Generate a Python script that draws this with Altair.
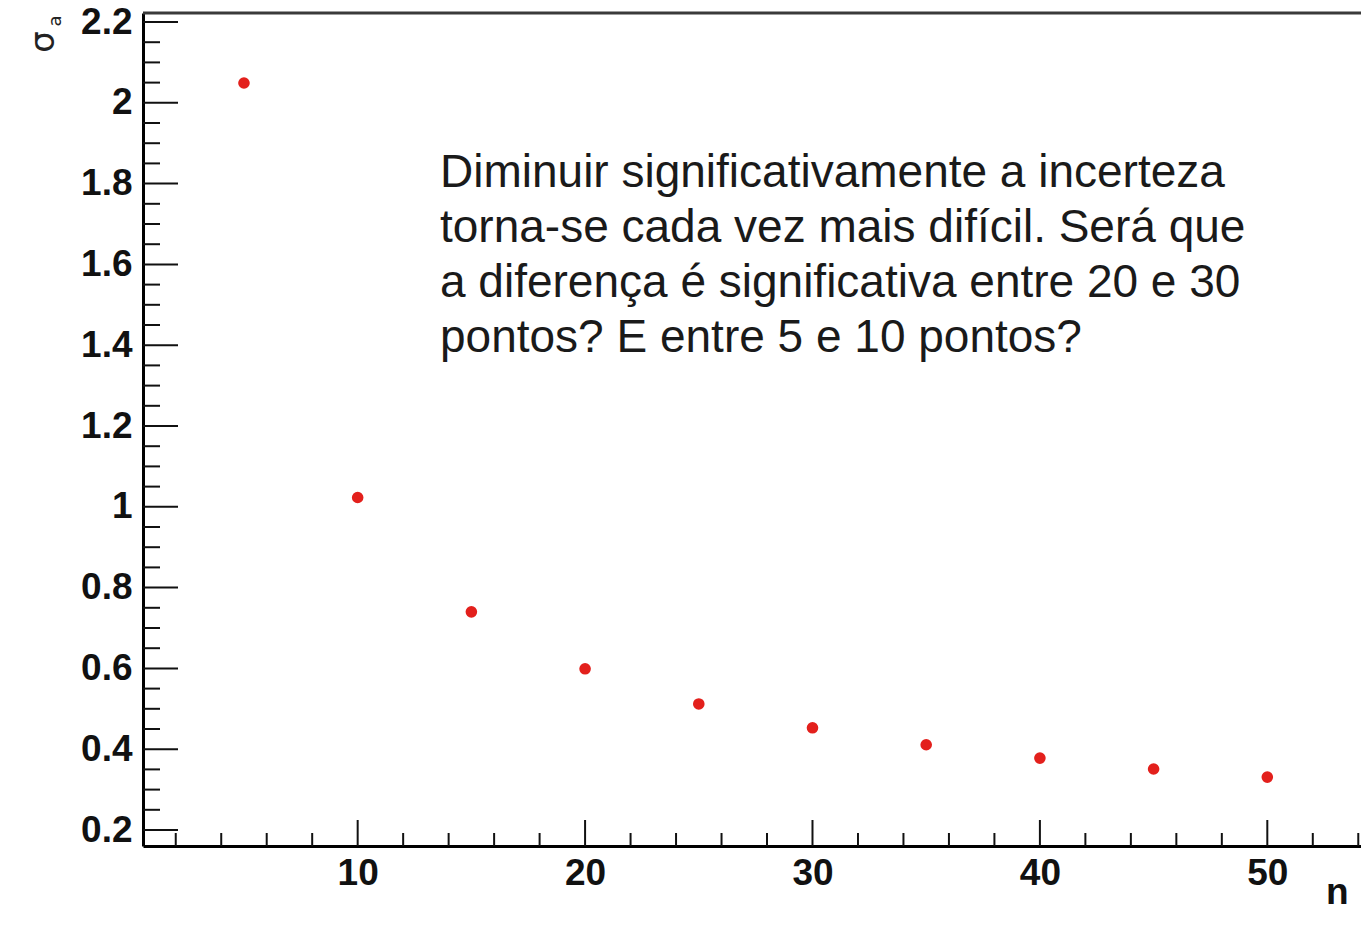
import altair as alt
import pandas as pd

# ---- data ----
n_values = [5, 10, 15, 20, 25, 30, 35, 40, 45, 50]
sigma_values = [2.049, 1.023, 0.740, 0.599, 0.512, 0.453, 0.411, 0.378, 0.351, 0.331]

x_major = [10, 20, 30, 40, 50]
x_minor = [2, 4, 6, 8, 12, 14, 16, 18, 22, 24, 26, 28, 32, 34, 36, 38, 42, 44, 46, 48, 52, 54]
y_major = [0.2, 0.4, 0.6, 0.8, 1.0, 1.2, 1.4, 1.6, 1.8, 2.0, 2.2]
y_minor = [0.25, 0.3, 0.35, 0.45, 0.5, 0.55, 0.65, 0.7, 0.75, 0.85, 0.9, 0.95,
           1.05, 1.1, 1.15, 1.25, 1.3, 1.35, 1.45, 1.5, 1.55, 1.65, 1.7, 1.75,
           1.85, 1.9, 1.95, 2.05, 2.1, 2.15]

annotation_lines = [
    "Diminuir significativamente a incerteza",
    "torna-se cada vez mais difícil. Será que",
    "a diferença é significativa entre 20 e 30",
    "pontos? E entre 5 e 10 pontos?",
]
y_title_main = "σ"
y_title_sub = "a"
x_title = "n"

# ---- layout ----
W = 1218
H = 833
FONT = "Liberation Sans"

xscale = alt.Scale(domain=[0.56, 54.12], nice=False, zero=False)
yscale = alt.Scale(domain=[0.1604, 2.2223], nice=False, zero=False)

xaxis = alt.Axis(values=x_major, title=None, grid=False, ticks=False, tickSize=0,
                 domainColor="#000000", domainWidth=3,
                 labelFont=FONT, labelFontSize=37, labelFontWeight="bold",
                 labelColor="#111111", labelPadding=9, labelFlush=False)
yaxis = alt.Axis(values=y_major, title=None, grid=False, ticks=False, tickSize=0,
                 domainColor="#000000", domainWidth=3,
                 labelExpr="format(datum.value, '~g')",
                 labelFont=FONT, labelFontSize=37, labelFontWeight="bold",
                 labelColor="#111111", labelPadding=11, labelFlush=False)

pts = pd.DataFrame({"n": n_values, "sigma": sigma_values})

points = alt.Chart(pts).mark_circle(size=135, color="#e3201c", opacity=1).encode(
    x=alt.X("n:Q", scale=xscale, axis=xaxis),
    y=alt.Y("sigma:Q", scale=yscale, axis=yaxis),
)

def xticks(vals, length):
    df = pd.DataFrame({"n": vals})
    return alt.Chart(df).mark_rule(color="#111111", strokeWidth=2).encode(
        x=alt.X("n:Q", scale=xscale, axis=xaxis),
        y=alt.value(H),
        y2=alt.value(H - length),
    )

def yticks(vals, length):
    df = pd.DataFrame({"sigma": vals})
    return alt.Chart(df).mark_rule(color="#111111", strokeWidth=2).encode(
        y=alt.Y("sigma:Q", scale=yscale, axis=yaxis),
        x=alt.value(0),
        x2=alt.value(length),
    )

top_frame = alt.Chart(pd.DataFrame({"a": [0]})).mark_rule(color="#3a3a3a", strokeWidth=3).encode(
    x=alt.value(0), x2=alt.value(W), y=alt.value(0)
)

annotation = alt.Chart(pd.DataFrame({"a": [0]})).mark_text(
    text=annotation_lines, align="left", baseline="alphabetic", font=FONT,
    fontSize=46, lineHeight=55, color="#1a1a1a",
).encode(x=alt.value(297), y=alt.value(174))

ytitle_main = alt.Chart(pd.DataFrame({"a": [0]})).mark_text(
    text=y_title_main, angle=270, align="center", baseline="middle",
    font="DejaVu Sans", fontSize=34, color="#222222",
).encode(x=alt.value(-99), y=alt.value(29))

ytitle_sub = alt.Chart(pd.DataFrame({"a": [0]})).mark_text(
    text=y_title_sub, angle=270, align="center", baseline="middle",
    font="DejaVu Sans", fontSize=18, color="#222222",
).encode(x=alt.value(-87), y=alt.value(8))

xtitle = alt.Chart(pd.DataFrame({"a": [0]})).mark_text(
    text=x_title, align="left", baseline="alphabetic",
    font=FONT, fontSize=37, fontWeight="bold", color="#111111",
).encode(x=alt.value(1183), y=alt.value(891))

chart = alt.layer(
    top_frame,
    xticks(x_major, 26), xticks(x_minor, 13),
    yticks(y_major, 35), yticks(y_minor, 17),
    points, annotation, ytitle_main, ytitle_sub, xtitle,
).properties(
    width=W, height=H,
    autosize=alt.AutoSizeParams(type="none"),
    padding={"left": 143, "top": 13, "right": 0, "bottom": 72},
    background="white",
).configure_view(stroke=None)

chart.save("out.html", embed_options={"renderer": "svg", "actions": False})
